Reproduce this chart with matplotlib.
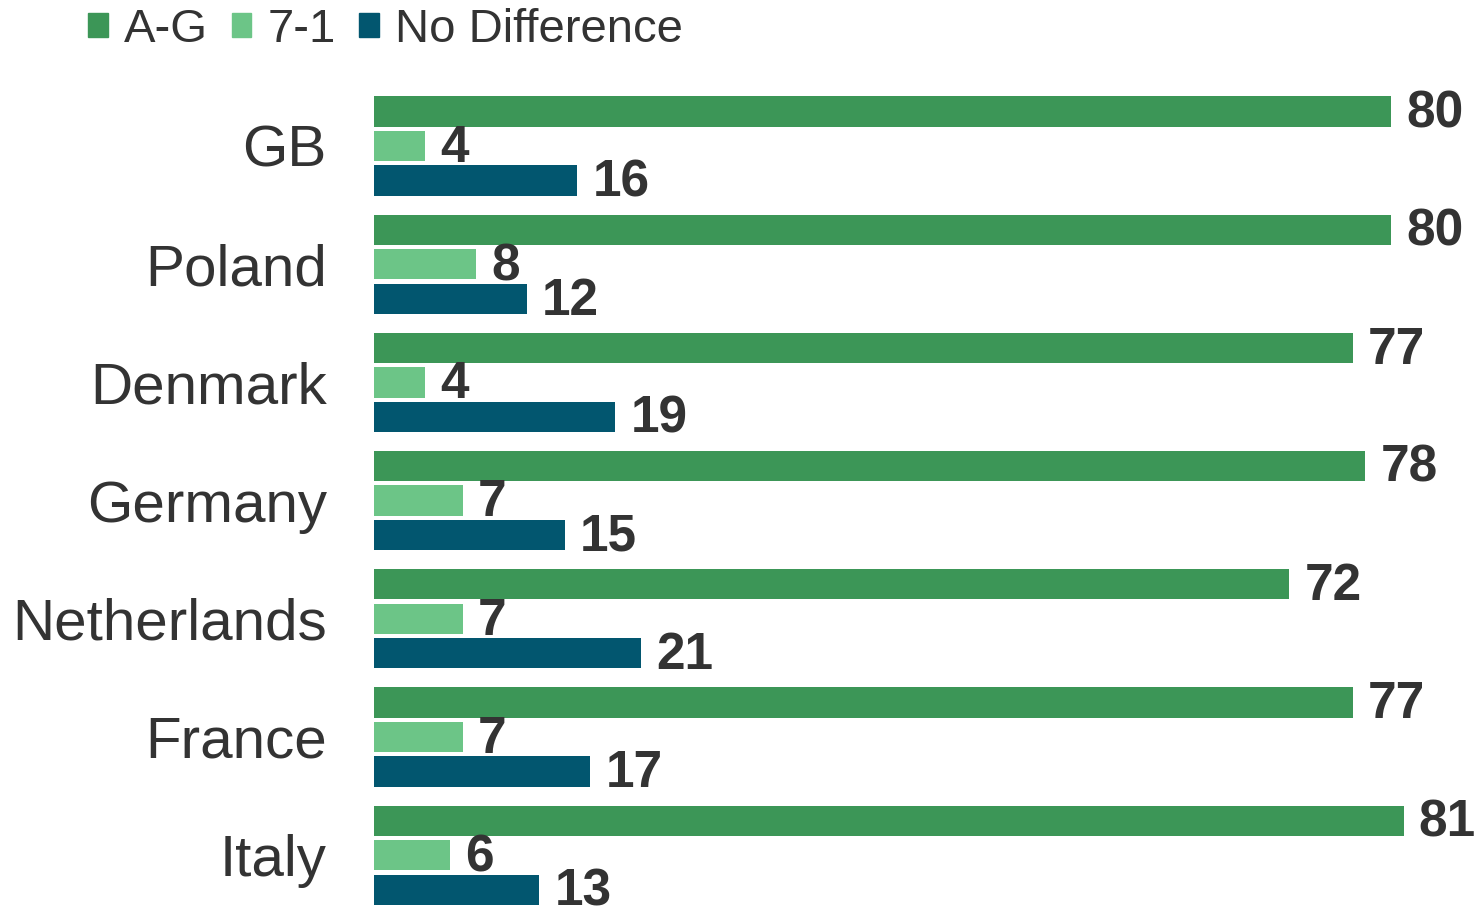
import matplotlib.pyplot as plt
from matplotlib.patches import Patch
import numpy as np

countries = ["GB", "Poland", "Denmark", "Germany", "Netherlands", "France", "Italy"]
series_names = ["A-G", "7-1", "No Difference"]
ag = [80, 80, 77, 78, 72, 77, 81]
seven_one = [4, 8, 4, 7, 7, 7, 6]
no_diff = [16, 12, 19, 15, 21, 17, 13]

colors = ["#3C9657", "#6CC587", "#02566F"]
text_color = "#333333"

plt.rcParams['font.family'] = ['Liberation Sans', 'DejaVu Sans']

fig = plt.figure(figsize=(14.84, 9.11), dpi=100)
ax = fig.add_axes([374 / 1484, 0, 1 - 374 / 1484, 1 - 80 / 911])

y = np.arange(len(countries))
step = 0.292
height = 0.256

for k, (vals, col) in enumerate(zip([ag, seven_one, no_diff], colors)):
    pos = y + (k - 1) * step
    ax.barh(pos, vals, height=height, color=col)
    for p, v in zip(pos, vals):
        ax.text(v + 1.2, p + 0.02, str(v), va='center', ha='left', fontsize=37,
                fontweight='bold', color=text_color)

ax.set_xlim(0, 87.33)
ax.set_ylim(6.472, -0.558)
ax.set_yticks(y)
ax.set_yticklabels(countries, fontsize=42, color=text_color)
ax.tick_params(axis='y', length=0, pad=34)
ax.set_xticks([])
for s in ax.spines.values():
    s.set_visible(False)

handles = [Patch(color=c) for c in colors]
fig.legend(handles, series_names, loc='upper left', bbox_to_anchor=(88 / 1484, 1 - 8 / 911),
           ncol=3, frameon=False, fontsize=34, labelcolor=text_color,
           handlelength=0.42, handleheight=0.42, handletextpad=0.34,
           columnspacing=0.5, borderpad=0, borderaxespad=0)

fig.savefig("out.png", dpi=100)
